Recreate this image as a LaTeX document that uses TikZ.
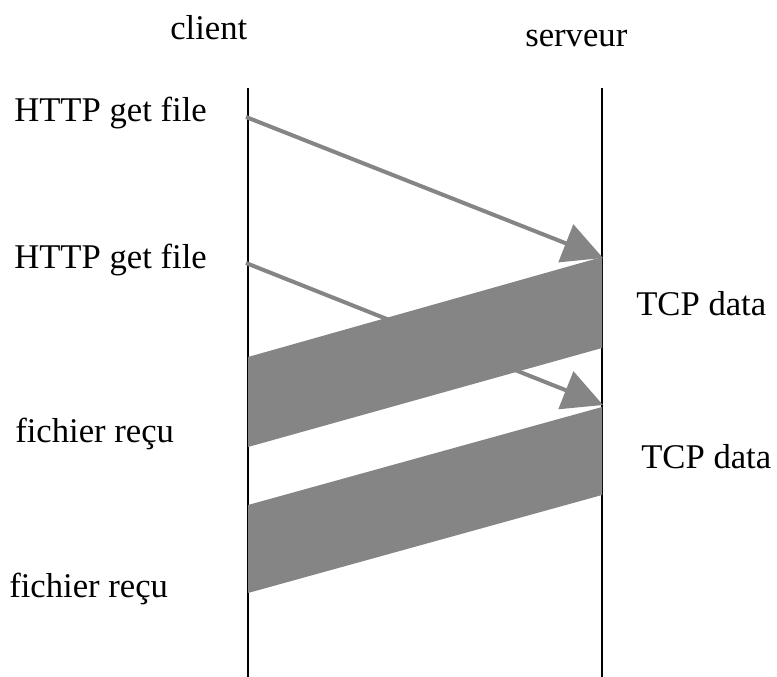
\documentclass[tikz,border=0pt]{standalone}
\usepackage{fontspec}
\setmainfont{Liberation Serif}
\usetikzlibrary{arrows.meta}
\definecolor{bandgray}{RGB}{133,133,133}
\begin{document}
\begin{tikzpicture}[x=0.75pt,y=-0.75pt,
  lbl/.style={anchor=base west,inner sep=0pt,font=\fontsize{26}{30}\selectfont},
  lifeline/.style={line width=1.5pt,black},
  msg/.style={line width=3pt,bandgray,-{Triangle[length=30pt,width=30pt]}},
  band/.style={fill=bandgray,draw=none}]
\useasboundingbox (0,0) rectangle (777,677);
% lifelines
\coordinate (ctop) at (248,88);
\coordinate (cbot) at (248,677);
\coordinate (stop) at (602,88);
\coordinate (sbot) at (602,677);
\draw[lifeline] (ctop) -- (cbot);
\draw[lifeline] (stop) -- (sbot);
% titles
\node[lbl] (client) at (170,40) {client};
\node[lbl] (serveur) at (525,47) {serveur};
% requests
\node[lbl] (get1) at (14,122) {HTTP get file};
\node[lbl] (get2) at (14,268) {HTTP get file};
\coordinate (r1s) at (246,117);
\coordinate (r1e) at (603,258);
\coordinate (r2s) at (246,263);
\coordinate (r2e) at (603,405);
\draw[msg] (r1s) -- (r1e);
\draw[msg] (r2s) -- (r2e);
% data bands
\coordinate (b1a) at (248,357);
\coordinate (b1b) at (602,257);
\coordinate (b1c) at (602,348);
\coordinate (b1d) at (248,447);
\fill[band] (b1a) -- (b1b) -- (b1c) -- (b1d) -- cycle;
\coordinate (b2a) at (248,505);
\coordinate (b2b) at (602,407);
\coordinate (b2c) at (602,495);
\coordinate (b2d) at (248,593);
\fill[band] (b2a) -- (b2b) -- (b2c) -- (b2d) -- cycle;
% labels
\node[lbl] (tcp1) at (636,315) {TCP data};
\node[lbl] (tcp2) at (641,468) {TCP data};
\node[lbl] (recu1) at (15,442) {fichier reçu};
\node[lbl] (recu2) at (9,597) {fichier reçu};
\end{tikzpicture}
\end{document}
